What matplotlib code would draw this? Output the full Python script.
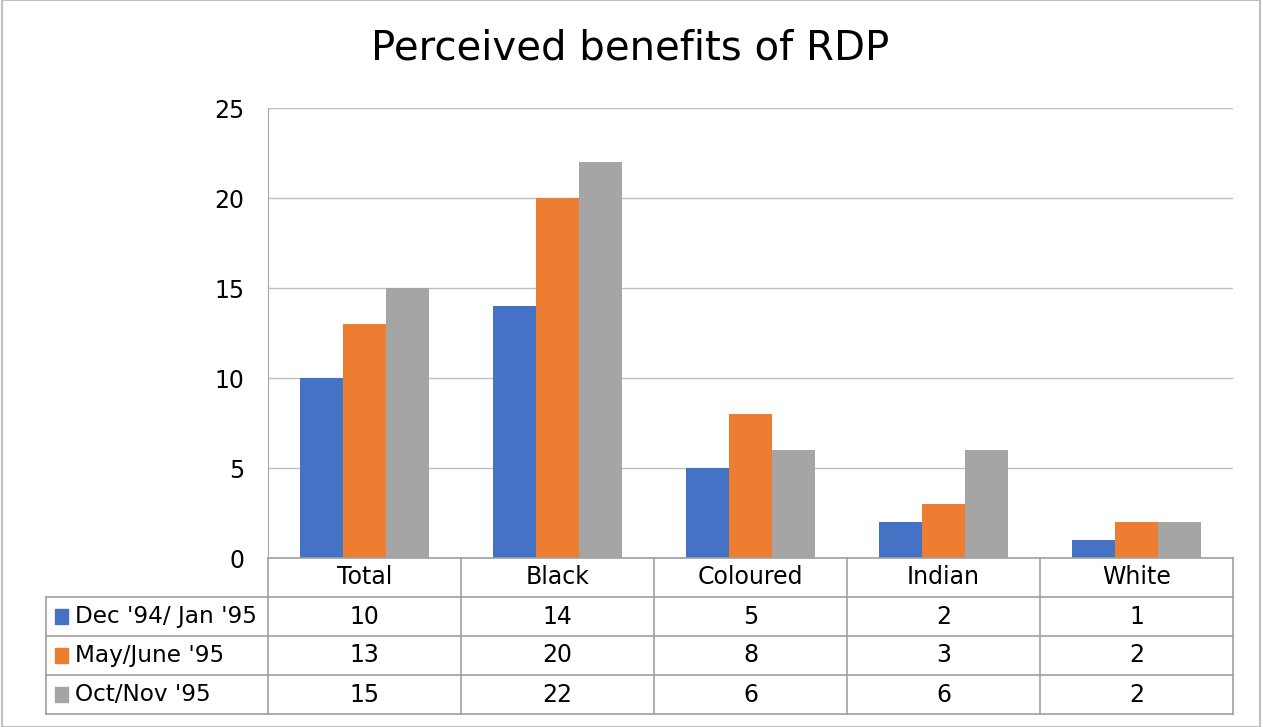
import numpy as np
import matplotlib.pyplot as plt
from matplotlib.transforms import blended_transform_factory
from matplotlib.patches import Rectangle

categories = ['Total', 'Black', 'Coloured', 'Indian', 'White']
series_names = ["Dec '94/ Jan '95", "May/June '95", "Oct/Nov '95"]
dec_jan = [10, 14, 5, 2, 1]
may_june = [13, 20, 8, 3, 2]
oct_nov = [15, 22, 6, 6, 2]
colors = ['#4472C4', '#ED7D31', '#A5A5A5']

plt.rcParams['font.family'] = ['DejaVu Sans']

fig = plt.figure(figsize=(12.63, 7.27), dpi=100)
W, H = 1263, 727
# plot area in pixels: left 268, right 1233, top 108, bottom 558
ax = fig.add_axes([268 / W, 1 - 558 / H, (1233 - 268) / W, (558 - 108) / H])

x = np.arange(len(categories))
bw = 0.222
all_series = [dec_jan, may_june, oct_nov]
for i, vals in enumerate(all_series):
    ax.bar(x + (i - 1) * bw, vals, bw, color=colors[i], zorder=3)

ax.set_xlim(-0.5, len(categories) - 0.5)
ax.set_ylim(0, 25)
ax.set_yticks(range(0, 26, 5))
ax.yaxis.grid(True, color='#BFBFBF', linewidth=1, zorder=0)
ax.tick_params(axis='y', length=0, labelsize=17, pad=17)
ax.tick_params(axis='x', length=0, labelbottom=False)
for s in ['top', 'right', 'bottom']:
    ax.spines[s].set_visible(False)
ax.spines['left'].set_color('#A6A6A6')

fig.text(630 / W, 1 - 48 / H, 'Perceived benefits of RDP', fontsize=29,
         ha='center', va='center')

# data table under the axis
trans = blended_transform_factory(ax.transData, ax.transAxes)
row_h = 39 / 450
line_kw = dict(color='#A0A0A0', linewidth=1.2, clip_on=False, zorder=4)
left_px = 46
left_data = -0.5 - (268 - left_px) / 193

# horizontal lines
ax.plot([-0.5, 4.5], [0, 0], transform=trans, **line_kw)
for r in range(1, 5):
    ax.plot([left_data, 4.5], [-r * row_h, -r * row_h], transform=trans, **line_kw)
# vertical lines
for c in range(len(categories) + 1):
    ax.plot([c - 0.5, c - 0.5], [0, -4 * row_h], transform=trans, **line_kw)
ax.plot([left_data, left_data], [-row_h, -4 * row_h], transform=trans, **line_kw)

for c, cat in enumerate(categories):
    ax.text(c, -0.5 * row_h, cat, transform=trans, ha='center', va='center',
            fontsize=17)
for r, vals in enumerate(all_series):
    yc = -(r + 1.5) * row_h
    for c, v in enumerate(vals):
        ax.text(c, yc, str(v), transform=trans, ha='center', va='center',
                fontsize=17)
    key_x = left_data + 9 / 193
    ax.add_patch(Rectangle((key_x, yc - 0.2 * row_h), 13 / 193, 0.4 * row_h,
                           transform=trans, color=colors[r], clip_on=False))
    ax.text(key_x + 20 / 193, yc, series_names[r], transform=trans,
            ha='left', va='center', fontsize=16.7)

# outer frame
fig.patches.append(Rectangle((2 / W, 0), (1260 - 2) / W, 1, transform=fig.transFigure,
                             fill=False, edgecolor='#BFBFBF', linewidth=1.5))

fig.savefig('out.png', dpi=100)
